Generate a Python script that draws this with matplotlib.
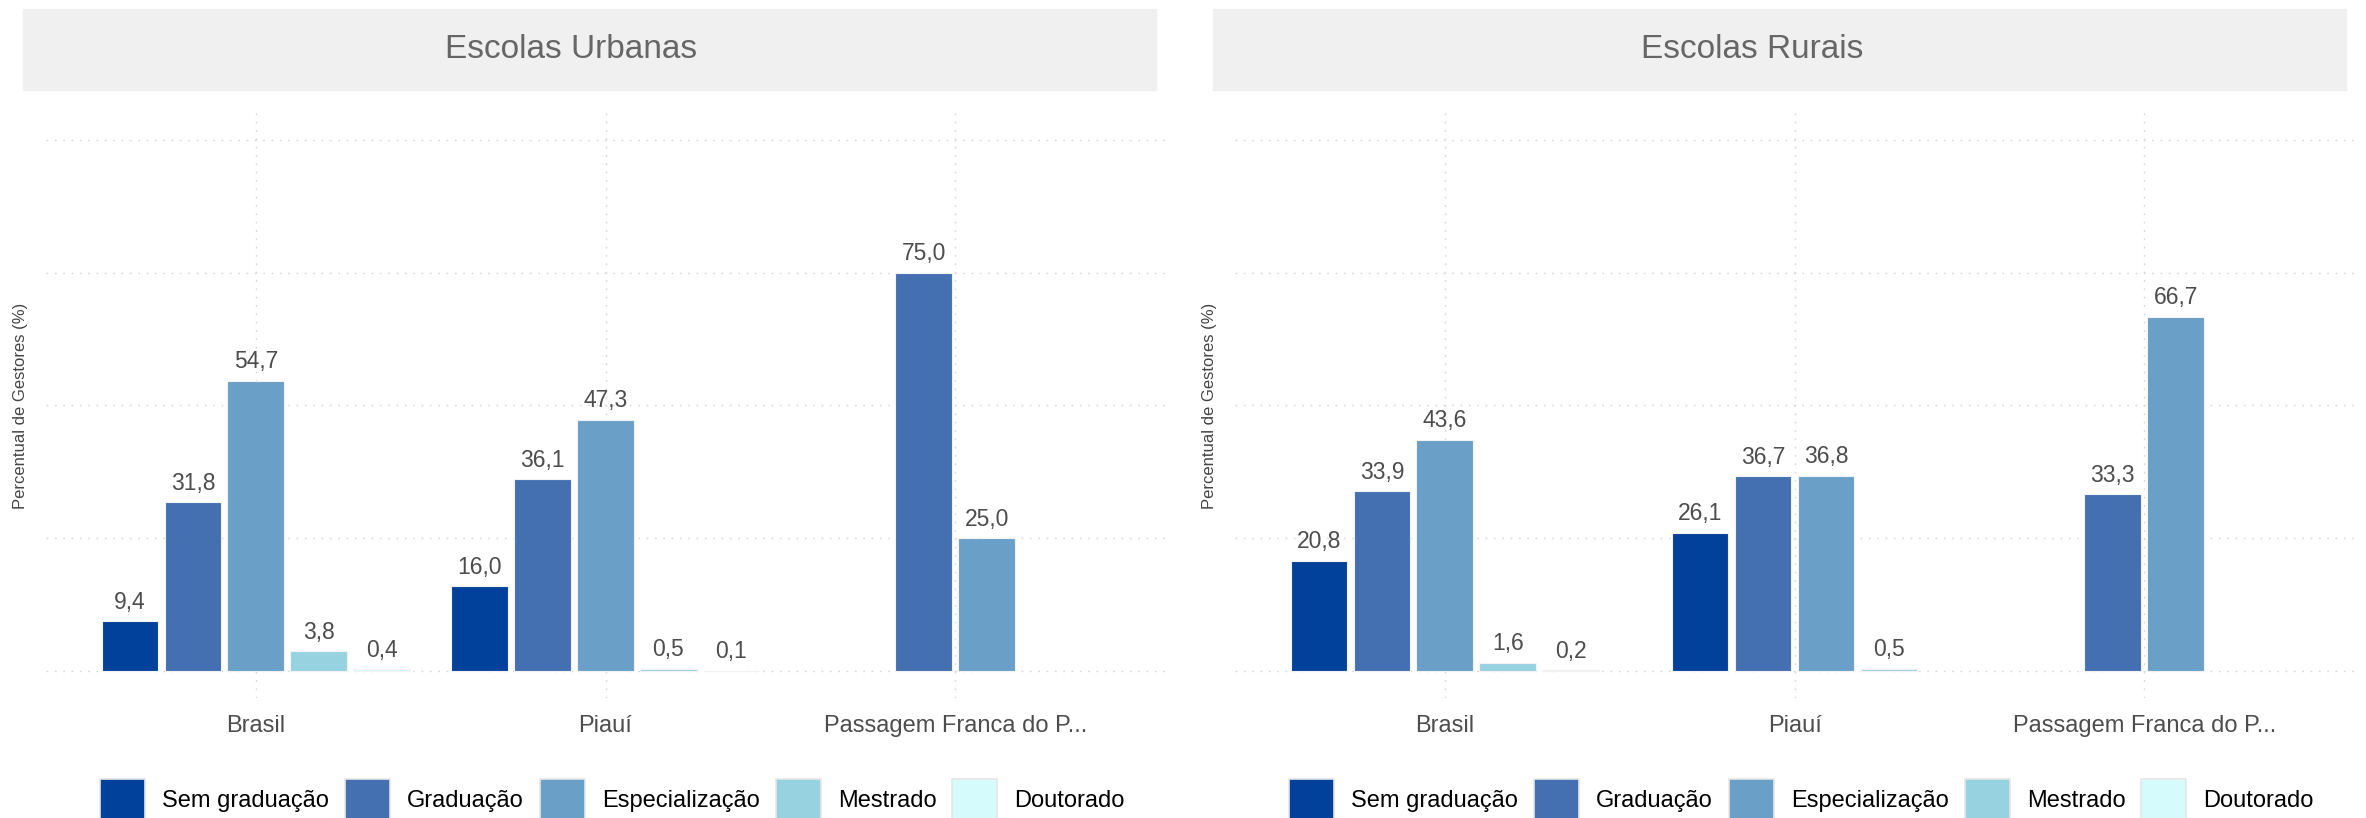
import matplotlib
matplotlib.use("Agg")
import matplotlib.pyplot as plt
from matplotlib.patches import Rectangle
from matplotlib import font_manager

# data
categories = ["Brasil", "Piauí", "Passagem Franca do P..."]
levels = ["Sem graduação", "Graduação", "Especialização", "Mestrado", "Doutorado"]
colors = ["#02419b", "#446fb1", "#6aa0c8", "#97d2e0", "#d6fbfc"]

urbanas = {
    "Sem graduação": [9.4, 16.0, None],
    "Graduação": [31.8, 36.1, 75.0],
    "Especialização": [54.7, 47.3, 25.0],
    "Mestrado": [3.8, 0.5, None],
    "Doutorado": [0.4, 0.1, None],
}
rurais = {
    "Sem graduação": [20.8, 26.1, None],
    "Graduação": [33.9, 36.7, 33.3],
    "Especialização": [43.6, 36.8, 66.7],
    "Mestrado": [1.6, 0.5, None],
    "Doutorado": [0.2, None, None],
}
panels = [("Escolas Urbanas", urbanas), ("Escolas Rurais", rurais)]

names = {f.name for f in font_manager.fontManager.ttflist}
base_font = "Liberation Sans" if "Liberation Sans" in names else "DejaVu Sans"
title_font = "Liberation Sans Narrow" if "Liberation Sans Narrow" in names else base_font
plt.rcParams["font.family"] = [base_font, "DejaVu Sans"]

W, H = 2366, 818
fig = plt.figure(figsize=(W / 100, H / 100), dpi=100)

grid_kw = dict(color="#d9d9d9", linewidth=1.0, linestyle=(0, (1.3, 4.7)))
step = 0.18
bw = 0.162
shift = 1189

for p, (title, data) in enumerate(panels):
    off = p * shift
    ax_left = 46 + off
    ax = fig.add_axes([ax_left / W, 120 / H, 1119 / W, 585 / H])
    ax.set_xlim(-0.6, 2.6)
    ax.set_ylim(-5, 105)
    for s in ax.spines.values():
        s.set_visible(False)
    ax.set_yticks([0, 25, 50, 75, 100])
    ax.set_yticklabels([])
    ax.set_xticks(range(len(categories)))
    ax.set_xticklabels(categories, fontsize=17, color="#4d4d4d")
    ax.tick_params(length=0, pad=12)
    ax.grid(True, **grid_kw)
    ax.set_axisbelow(True)
    ax.set_ylabel("Percentual de Gestores (%)", fontsize=12, color="#444444")
    ax.yaxis.set_label_coords(-0.016, 0.5)

    for c in range(len(categories)):
        present = [lv for lv in levels if data[lv][c] is not None]
        n = len(present)
        for k, lv in enumerate(present):
            v = data[lv][c]
            x = c + (k - (n - 1) / 2) * step
            ax.bar(x, v, width=bw, color=colors[levels.index(lv)],
                   edgecolor="#f2f2f2", linewidth=0.8, zorder=2)
            ax.text(x, v + 1.4, f"{v:.1f}".replace(".", ","), ha="center", va="bottom",
                    fontsize=16.5, color="#4d4d4d")

    # strip title
    sx0 = 23 + off if p == 0 else 1213
    sx1 = 1156 + off if p == 0 else 2346
    fig.patches.append(Rectangle((sx0 / W, 1 - 90 / H), (sx1 - sx0) / W, 81 / H,
                                 transform=fig.transFigure, color="#f0f0f0", zorder=0))
    fig.text((571 + p * 1181) / W, 1 - 50 / H, title, ha="center", va="center",
             fontsize=24, color="#666666", family=[title_font, "DejaVu Sans"])

# legends below each panel, drawn by hand
fig.canvas.draw()
r = fig.canvas.get_renderer()
key = 45
gap1, gap2 = 17, 16
for p in range(2):
    texts = []
    widths = []
    for lv in levels:
        t = fig.text(0, 0, lv, fontsize=17, color="black", va="center")
        widths.append(t.get_window_extent(renderer=r).width)
        texts.append(t)
    total = sum(key + gap1 + w for w in widths) + gap2 * (len(levels) - 1)
    x = 612.5 + p * shift - total / 2
    for lv, t, w in zip(levels, texts, widths):
        fig.patches.append(Rectangle((x / W, 1 - 824 / H), key / W, 45 / H,
                                     transform=fig.transFigure,
                                     facecolor=colors[levels.index(lv)],
                                     edgecolor="#e6e6e6", linewidth=1.2))
        t.set_position(((x + key + gap1) / W, 1 - 801 / H))
        x += key + gap1 + w + gap2

fig.savefig("out.png", dpi=100, facecolor="white")
